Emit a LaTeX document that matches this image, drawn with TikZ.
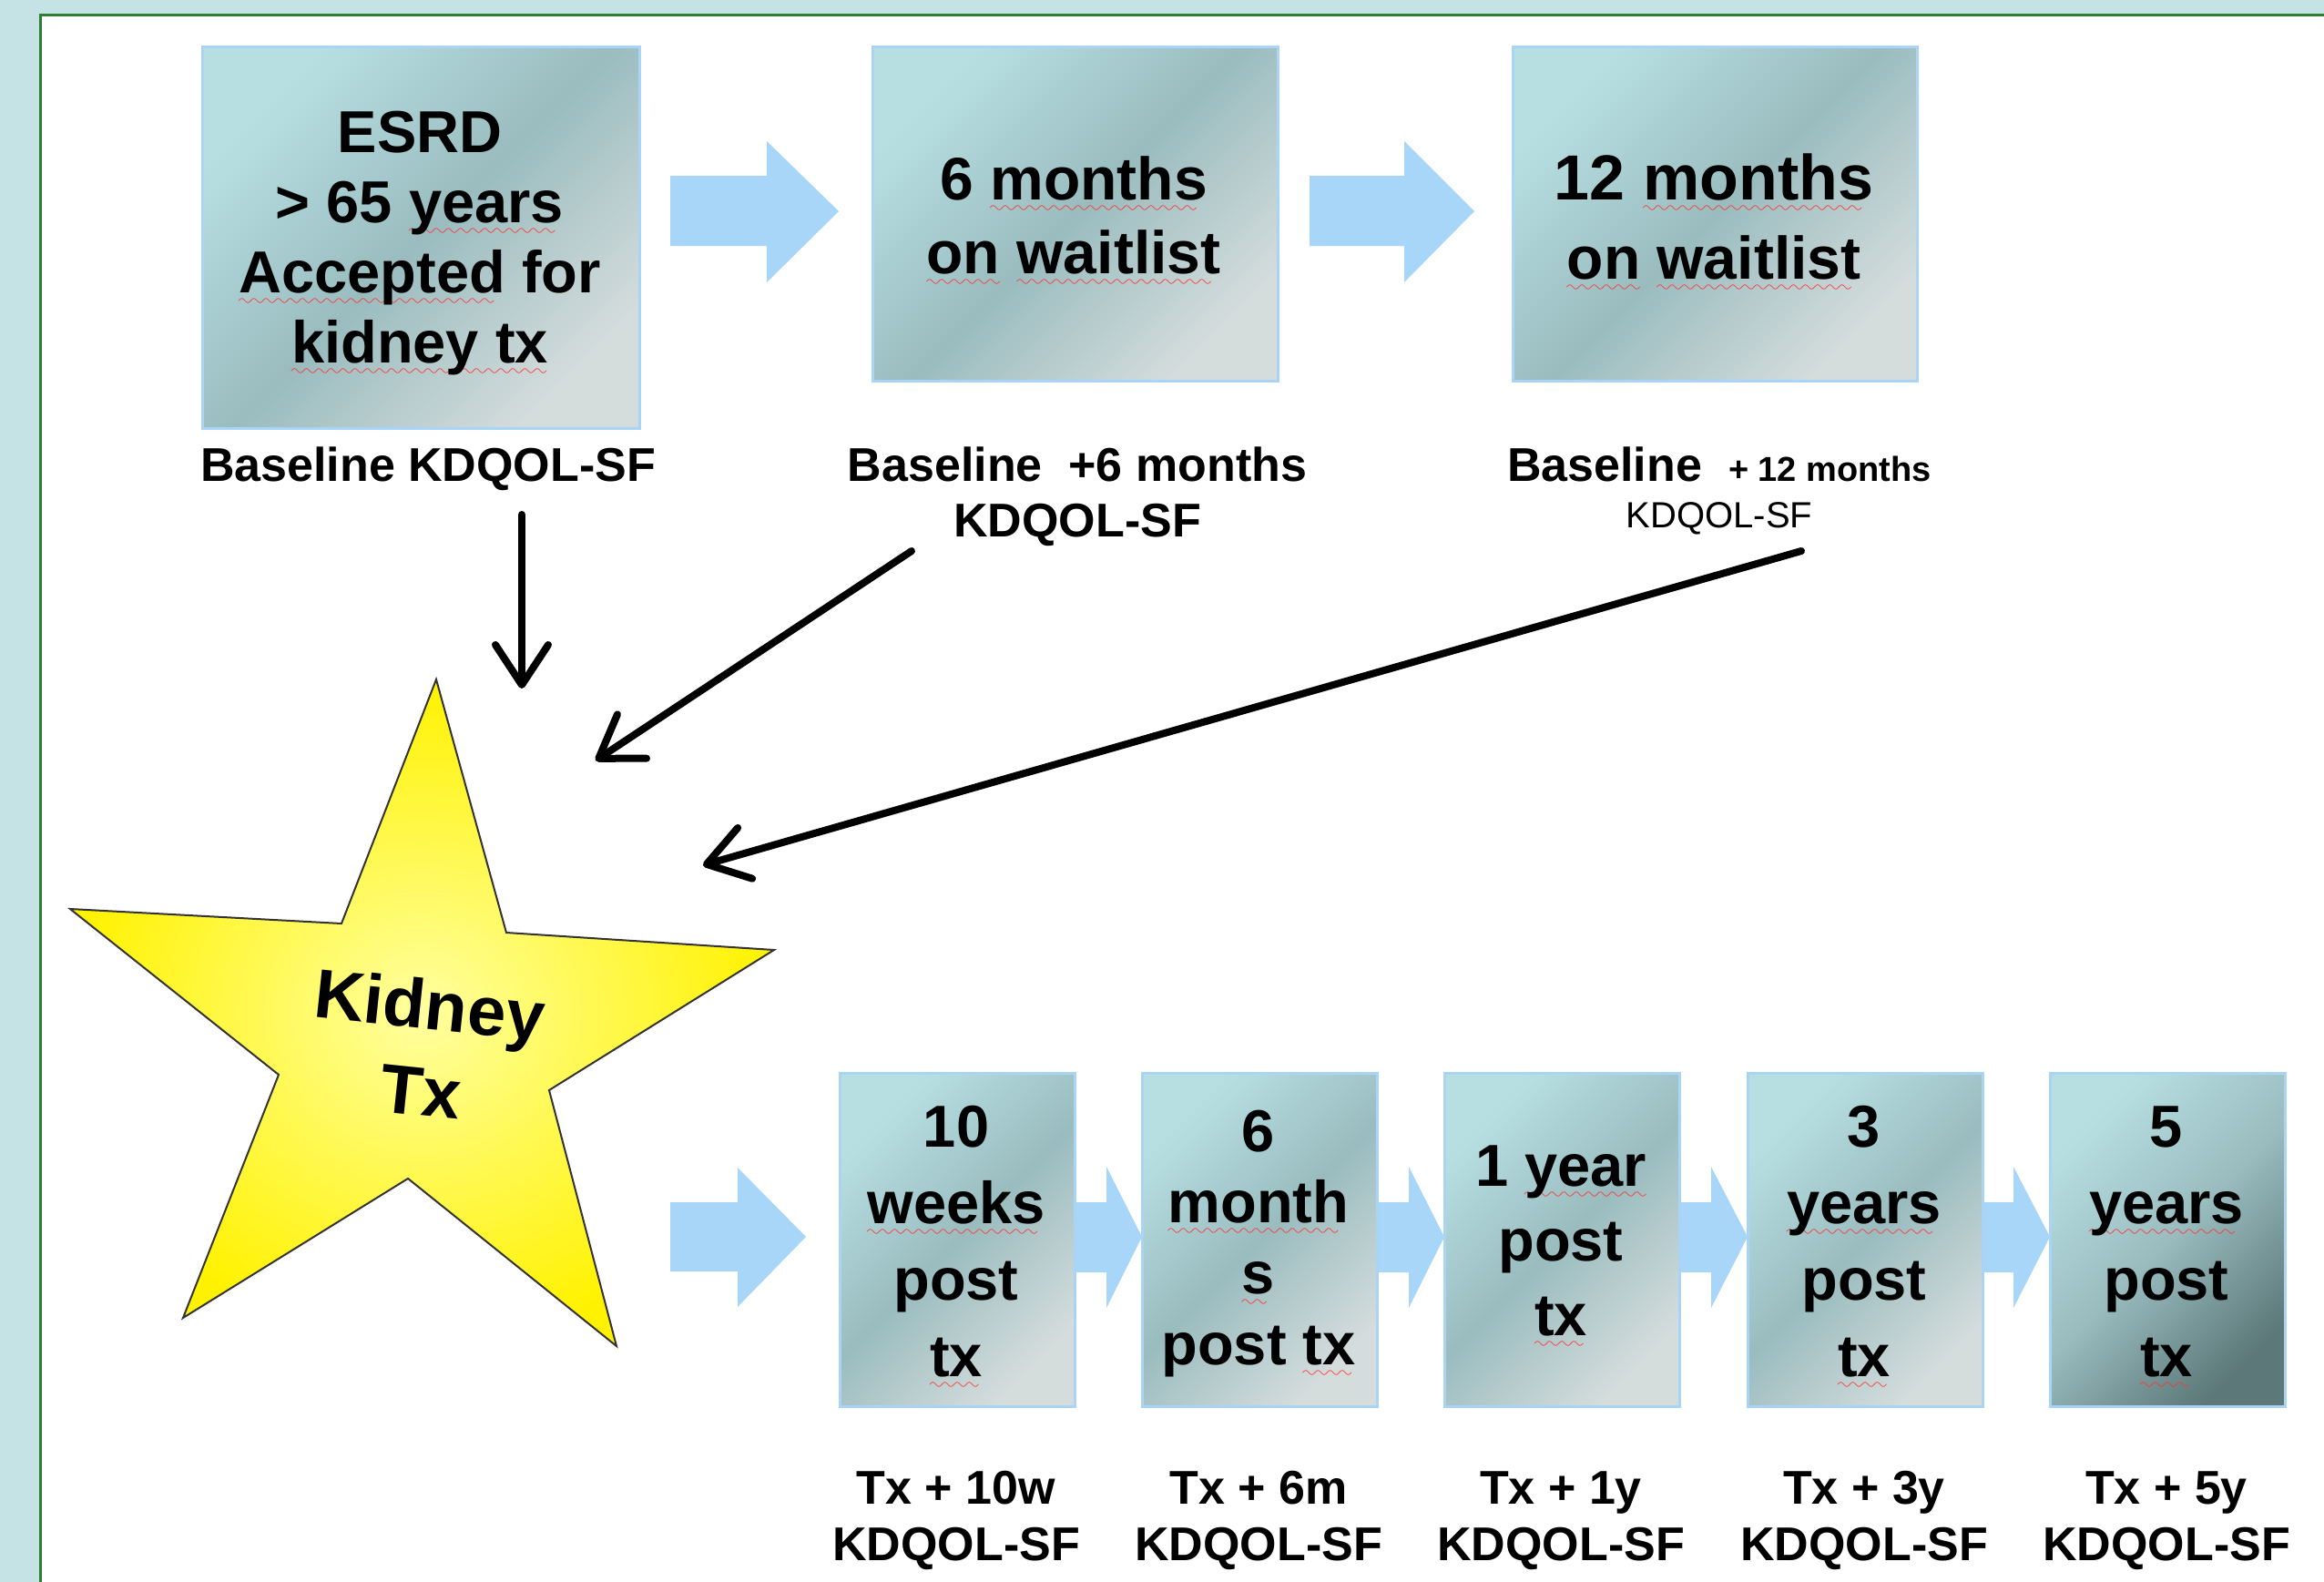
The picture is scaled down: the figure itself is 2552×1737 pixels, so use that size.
\documentclass[tikz,border=0pt]{standalone}
\usepackage{fontspec}
\setmainfont{Liberation Sans}
\usetikzlibrary{arrows.meta}

\definecolor{bgblue}{RGB}{197,227,229}
\definecolor{framegreen}{RGB}{46,125,50}
\definecolor{arrblue}{RGB}{168,214,248}
\definecolor{boxA}{RGB}{183,223,226}
\definecolor{boxB}{RGB}{154,188,191}
\definecolor{boxC}{RGB}{212,220,220}
\definecolor{boxD}{RGB}{92,120,121}
\definecolor{boxedge}{RGB}{170,212,245}
\definecolor{starin}{RGB}{255,255,160}
\definecolor{starout}{RGB}{255,242,0}

\font\wavefont=lasy10 at 20pt
\newsavebox\swbox
\newcommand\spellwave[1]{\sbox\swbox{#1}\rlap{\color{red!80!white}\lower14pt\hbox to \wd\swbox{\leaders\hbox{\wavefont\char58}\hfill}}\usebox\swbox}

\tikzset{
  stagebox/.style={draw=boxedge, line width=3pt, left color=boxA, right color=boxC, middle color=boxB, shading angle=45, inner sep=0pt, anchor=north west},
  lastbox/.style={stagebox, right color=boxD, middle color=boxB, shading angle=45},
  boxtext/.style={align=center, anchor=base, inner sep=0pt, font=\fontsize{65}{84}\selectfont\bfseries},
  labeltext/.style={align=center, anchor=base, inner sep=0pt, font=\fontsize{52}{62}\selectfont\bfseries},
  blockarrow/.style={fill=arrblue},
  blackarrow/.style={line width=8pt, line cap=round, -{Straight Barb[length=44pt, width=58pt, round, line width=8pt]}},
}

\begin{document}
\begin{tikzpicture}[x=1pt,y=-1pt]
\useasboundingbox (0,0) rectangle (2552,1737);
\fill[bgblue] (0,0) rectangle (2552,1737);
\fill[white] (44,17) rectangle (2552,1737);
\draw[framegreen, line width=3pt] (44,1737) -- (44,17) -- (2552,17);

% light blue block arrows
\fill[blockarrow] (736,193) -- (842,193) -- (842,155) -- (921,232) -- (842,310) -- (842,270) -- (736,270) -- cycle;
\fill[blockarrow] (1438,193) -- (1542,193) -- (1542,155) -- (1619,232) -- (1542,310) -- (1542,270) -- (1438,270) -- cycle;
\fill[blockarrow] (736,1320) -- (810,1320) -- (810,1282) -- (885,1358) -- (810,1435) -- (810,1396) -- (736,1396) -- cycle;
\foreach \r/\l in {1180/1253, 1512/1585, 1844/1918, 2176/2250}{
  \fill[blockarrow] (\r-5,1320) -- (\r+35,1320) -- (\r+35,1281) -- (\l+1,1358) -- (\r+35,1436) -- (\r+35,1397) -- (\r-5,1397) -- cycle;
}

% top boxes
\node[stagebox, minimum width=480pt, minimum height=419pt] (b1) at (221,50) {};
\node[stagebox, minimum width=445pt, minimum height=367pt] (b2) at (957,50) {};
\node[stagebox, minimum width=444pt, minimum height=367pt] (b3) at (1660,50) {};

% (multi-line nodes: base anchor = baseline of last line)
\node[boxtext, font=\fontsize{65}{77}\selectfont\bfseries] (t1) at (461,398)
  {ESRD\\> 65 \spellwave{years}\\\spellwave{Accepted} for\\\spellwave{kidney tx}};
\node[boxtext, font=\fontsize{66}{81}\selectfont\bfseries] (t2) at (1179,300)
  {6 \spellwave{months}\\\spellwave{on} \spellwave{waitlist}};
\node[boxtext, font=\fontsize{66}{87}\selectfont\bfseries] (t3) at (1882,306)
  {{\fontsize{70}{87}\selectfont 12 \spellwave{months}}\\\spellwave{on} \spellwave{waitlist}};

% labels under top boxes
\node[labeltext] (l1) at (470,528) {Baseline KDQOL-SF};
\node[labeltext, font=\fontsize{52}{61}\selectfont\bfseries] (l2) at (1183,589) {Baseline\ \ +6 months\\KDQOL-SF};
\node[labeltext, font=\fontsize{52}{51}\selectfont\bfseries] (l3) at (1888,579)
  {Baseline\ \ {\fontsize{38}{51}\selectfont + 12 months}\\{\mdseries\fontsize{40}{51}\selectfont KDQOL-SF}};

% star
\shadedraw[inner color=starin, outer color=starout, draw=black!80, line width=2pt, line join=miter]
  (479,746) -- (556,1024) -- (850,1043) -- (603,1197) -- (677,1478) -- (448,1294)
  -- (201,1447) -- (306,1180) -- (77,998) -- (375,1014) -- cycle;
\node[rotate=-6, align=center, inner sep=0pt, font=\fontsize{76}{95}\selectfont\bfseries] (kt) at (467,1150) {Kidney\\Tx};

% black arrows
\coordinate (s1) at (573,565);  \coordinate (e1) at (573,756);
\coordinate (s2) at (1001,605); \coordinate (e2) at (654,835);
\coordinate (s3) at (1978,605); \coordinate (e3) at (772,950);
\draw[blackarrow] (s1) -- (e1);
\draw[blackarrow] (s2) -- (e2);
\draw[blackarrow] (s3) -- (e3);

% bottom boxes
\node[stagebox, minimum width=258pt, minimum height=366pt] (c1) at (921,1177) {};
\node[stagebox, minimum width=258pt, minimum height=366pt] (c2) at (1253,1177) {};
\node[stagebox, minimum width=258pt, minimum height=366pt] (c3) at (1585,1177) {};
\node[stagebox, minimum width=258pt, minimum height=366pt] (c4) at (1918,1177) {};
\node[lastbox, minimum width=258pt, minimum height=366pt] (c5) at (2250,1177) {};

\node[boxtext] (u1) at (1050,1511) {10\\\spellwave{weeks}\\post\\\spellwave{tx}};
\node[boxtext, font=\fontsize{65}{78}\selectfont\bfseries] (u2) at (1382,1498) {6\\\spellwave{month}\\\spellwave{s}\\post \spellwave{tx}};
\node[boxtext, font=\fontsize{65}{82}\selectfont\bfseries] (u3) at (1714,1466) {1 \spellwave{year}\\post\\\spellwave{tx}};
\node[boxtext] (u4) at (2047,1511) {3\\\spellwave{years}\\post\\\spellwave{tx}};
\node[boxtext] (u5) at (2379,1511) {5\\\spellwave{years}\\post\\\spellwave{tx}};

% bottom labels
\node[labeltext] (m1) at (1050,1713) {Tx + 10w\\KDQOL-SF};
\node[labeltext] (m2) at (1382,1713) {Tx + 6m\\KDQOL-SF};
\node[labeltext] (m3) at (1714,1713) {Tx + 1y\\KDQOL-SF};
\node[labeltext] (m4) at (2047,1713) {Tx + 3y\\KDQOL-SF};
\node[labeltext] (m5) at (2379,1713) {Tx + 5y\\KDQOL-SF};
\end{tikzpicture}
\end{document}
